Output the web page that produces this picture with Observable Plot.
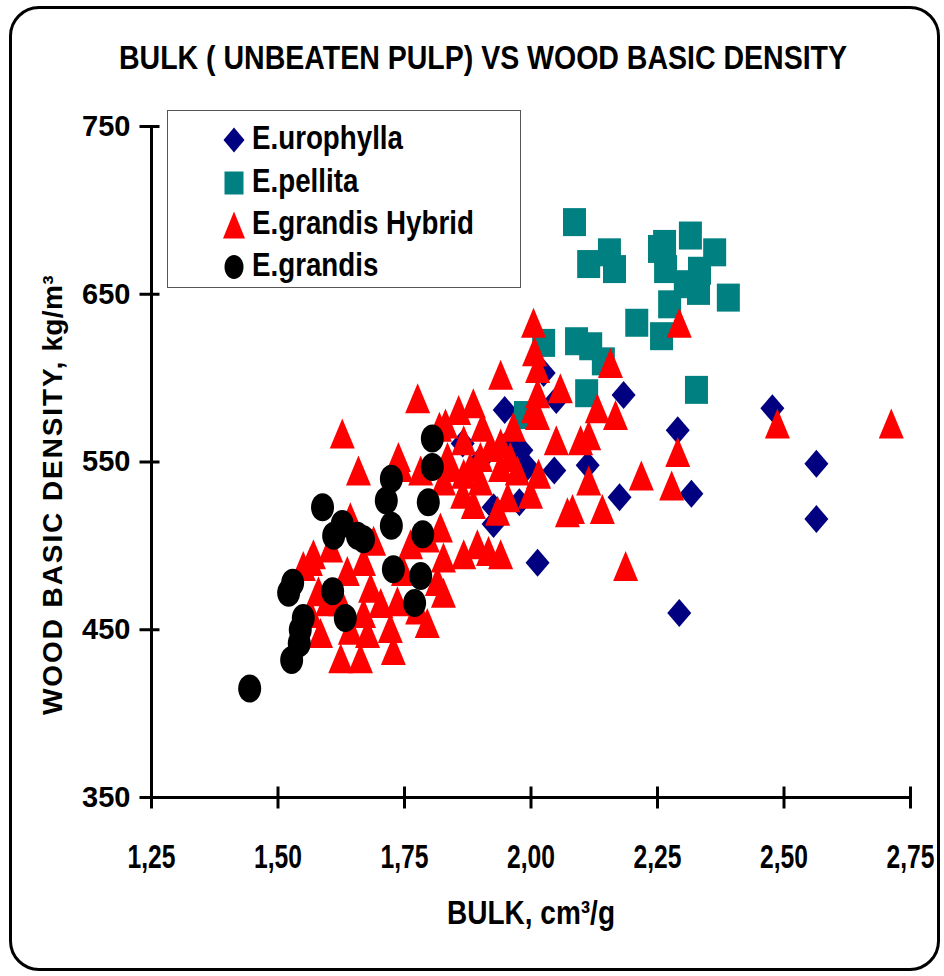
<!DOCTYPE html>
<html>
<head>
<meta charset="utf-8">
<script src="https://cdn.jsdelivr.net/npm/d3@7"></script>
<script src="https://cdn.jsdelivr.net/npm/@observablehq/plot@0.6"></script>
<style>
  body { margin: 0; background: #fff; }
  #wrap { position: relative; width: 944px; height: 976px; overflow: hidden; background: #fff;
          font-family: "Liberation Sans", Arial, sans-serif; font-weight: bold; color: #000; }
  #title { position: relative; height: 100px; }
  #title span { position: absolute; left: 119px; top: 38px; font-size: 34px; line-height: 38px;
                white-space: nowrap; transform-origin: 0 50%; }
  #frame { position: absolute; left: 9px; top: 6px; width: 925px; height: 959px;
           border: 3px solid #000; border-radius: 30px; pointer-events: none; }
  #legend { position: absolute; left: 167px; top: 110px; width: 354px; height: 178px; box-sizing: border-box;
            border: 1.5px solid #555; background: #fff; }
  #legend .row { position: absolute; left: 0; height: 40px; width: 100%; }
  #legend svg { position: absolute; left: 50px; top: 6px; }
  #legend .lab { position: absolute; left: 84px; top: 1px; font-size: 33px; line-height: 38px;
                 white-space: nowrap; transform-origin: 0 50%; }
</style>
</head>
<body>
<div id="wrap">
  <div id="title"><span>BULK ( UNBEATEN PULP) VS WOOD BASIC DENSITY</span></div>
  <div id="chart"></div>
  <div id="legend"></div>
  <div id="frame"></div>
</div>
<script>
// ---- data ----
const categories = ["E.urophylla", "E.pellita", "E.grandis Hybrid", "E.grandis"];
const colors = ["#000080", "#008080", "#FF0000", "#000000"];
const xTicks = [1.25, 1.50, 1.75, 2.00, 2.25, 2.50, 2.75];
const yTicks = [350, 450, 550, 650, 750];
const xTitle = "BULK, cm³/g";
const yTitleMain = "WOOD BASIC DENSITY,";
const yTitleUnit = " kg/m³";

const urophyllaBulk = [2.183, 2.477, 2.290, 2.564, 2.317, 2.564, 2.293, 2.013, 2.175, 2.046, 2.112,
  1.977, 1.948, 2.050, 2.025, 1.981, 1.865, 1.959, 1.926, 1.926, 1.993, 1.900];
const urophyllaDensity = [590, 582, 569, 549, 531, 516, 460, 490, 529, 545, 548,
  526, 581, 587, 603, 557, 561, 563, 523, 513, 547, 551];

const pellitaBulk = [2.086, 2.114, 2.155, 2.165, 2.209, 2.254, 2.264, 2.266, 2.274, 2.258, 2.315, 2.363,
  2.333, 2.331, 2.305, 2.390, 2.327, 2.090, 2.118, 2.143, 2.110, 2.025, 1.989];
const pellitaDensity = [693, 668, 675, 665, 633, 677, 680, 665, 644, 625, 685, 675,
  664, 652, 656, 648, 593, 622, 619, 610, 591, 621, 578];

const hybridBulk = [2.712, 2.487, 2.293, 2.290, 2.278, 2.218, 2.187, 2.157, 2.131, 2.167, 2.141, 2.114,
  2.072, 2.082, 2.050, 2.098, 2.114, 2.058, 2.005, 2.007, 2.013, 2.013, 1.965, 2.015, 1.999, 1.940,
  1.940, 2.005, 2.013, 1.886, 1.857, 1.831, 1.904, 1.940, 1.920, 1.867, 1.959, 1.835, 1.900, 1.880,
  1.841, 1.776, 1.627, 1.738, 1.659, 1.819, 1.742, 1.782, 1.643, 1.570, 1.604, 1.689, 1.762, 1.795,
  1.821, 1.827, 1.815, 1.827, 1.795, 1.736, 1.722, 1.728, 1.669, 1.663, 1.624, 1.584, 1.564, 1.598,
  1.643, 1.677, 1.703, 1.683, 1.637, 1.669, 1.748, 1.776, 1.827, 1.867, 1.900, 1.940, 1.973, 1.954,
  1.934, 1.886, 1.865, 1.867, 1.894, 1.916, 1.564, 1.550, 1.624, 1.580];
const hybridDensity = [573, 573, 633, 556, 536, 542, 488, 609, 582, 578, 522, 539,
  520, 522, 563, 563, 566, 594, 633, 616, 606, 591, 571, 543, 531, 602,
  495, 582, 578, 585, 581, 573, 571, 561, 559, 563, 553, 553, 553, 547,
  547, 588, 567, 553, 545, 571, 547, 545, 517, 495, 499, 503, 501, 505,
  511, 493, 479, 472, 454, 467, 451, 438, 460, 433, 433, 448, 460, 467,
  450, 448, 466, 475, 485, 491, 485, 462, 539, 543, 539, 547, 545, 529,
  521, 525, 531, 495, 501, 497, 491, 488, 467, 473];

const grandisBulk = [1.444, 1.527, 1.542, 1.544, 1.550, 1.521, 1.529, 1.608, 1.633, 1.588, 1.627, 1.610,
  1.657, 1.669, 1.714, 1.724, 1.724, 1.728, 1.805, 1.805, 1.797, 1.786, 1.782, 1.770];
const grandisDensity = [415, 432, 442, 450, 457, 472, 478, 473, 457, 523, 513, 506,
  506, 504, 527, 540, 512, 486, 564, 547, 526, 507, 482, 466];

// ---- marker shapes (fixed pixel size) ----
function diamond(w, h) { return { draw(c) { c.moveTo(0, -h/2); c.lineTo(w/2, 0); c.lineTo(0, h/2); c.lineTo(-w/2, 0); c.closePath(); } }; }
function square(w, h) { return { draw(c) { c.moveTo(-w/2, -h/2); c.lineTo(w/2, -h/2); c.lineTo(w/2, h/2); c.lineTo(-w/2, h/2); c.closePath(); } }; }
function triangle(w, h) { return { draw(c) { c.moveTo(0, -h/2); c.lineTo(w/2, h/2); c.lineTo(-w/2, h/2); c.closePath(); } }; }
function ellipse(w, h) { return { draw(c) { const a = w/2, b = h/2, k = 0.5523;
  c.moveTo(a, 0); c.bezierCurveTo(a, b*k, a*k, b, 0, b); c.bezierCurveTo(-a*k, b, -a, b*k, -a, 0);
  c.bezierCurveTo(-a, -b*k, -a*k, -b, 0, -b); c.bezierCurveTo(a*k, -b, a, -b*k, a, 0); c.closePath(); } }; }
const yTickSym = { draw(c) { c.moveTo(-12, 0); c.lineTo(8, 0); } };
const xTickSym = { draw(c) { c.moveTo(0, -11); c.lineTo(0, 11); } };

const shapes = [diamond(24, 28), square(23, 28), triangle(25, 30), ellipse(23, 28)];
const legendShapes = [diamond(21, 25), square(19, 23), triangle(22, 27), ellipse(19, 24)];

const rows = (xs, ys) => xs.map((x, i) => ({ x, y: ys[i] }));
const series = [rows(urophyllaBulk, urophyllaDensity), rows(pellitaBulk, pellitaDensity),
                rows(hybridBulk, hybridDensity), rows(grandisBulk, grandisDensity)];

const fmt = d => d.toFixed(2).replace(".", ",");
const FONT = "Liberation Sans, Arial, sans-serif";

const plot = Plot.plot({
  width: 944, height: 876,
  marginLeft: 151, marginRight: 34, marginTop: 26, marginBottom: 179,
  x: { domain: [1.25, 2.75], axis: null },
  y: { domain: [350, 750], axis: null },
  style: { fontFamily: FONT, background: "transparent", overflow: "visible" },
  marks: [
    ...series.map((s, i) => Plot.dot(s, { x: "x", y: "y", symbol: shapes[i], fill: colors[i], stroke: "none" })),
    Plot.ruleX([xTicks[0]], { stroke: "#000", strokeWidth: 3 }),
    Plot.ruleY([yTicks[0]], { stroke: "#000", strokeWidth: 3 }),
    Plot.dot(yTicks, { x: () => xTicks[0], y: d => d, symbol: yTickSym, stroke: "#000", strokeWidth: 3, fill: "none" }),
    Plot.dot(xTicks, { x: d => d, y: () => yTicks[0], symbol: xTickSym, stroke: "#000", strokeWidth: 3, fill: "none" }),
    Plot.text(yTicks, { x: () => xTicks[0], y: d => d, text: d => String(d), dx: -21, textAnchor: "end",
      fontSize: 29, fontWeight: "bold", fill: "#000" }),
    Plot.text(xTicks, { x: d => d, y: () => yTicks[0], text: fmt, dy: 60, fontSize: 34, fontWeight: "bold",
      fill: "#000" }),
    Plot.text([xTitle], { frameAnchor: "bottom", textAnchor: "middle", dy: 126, fontSize: 33, fontWeight: "bold",
      fill: "#000" }),
    Plot.text([yTitleMain + yTitleUnit], { frameAnchor: "left", textAnchor: "middle", dx: -98, dy: 33, rotate: -90,
      fontSize: 28, fontWeight: "bold", fill: "#000" })
  ]
});
document.getElementById("chart").appendChild(plot);

// condense some texts horizontally (fit to target widths)
function fitWidth(node, target) {
  const w = node.getComputedTextLength();
  const tr = node.getAttribute("transform") || "";
  node.setAttribute("transform", `${tr} scale(${target / w},1)`);
}
const xLabelSet = new Set(xTicks.map(fmt));
d3.select(plot).selectAll("text").each(function () {
  const s = this.textContent;
  if (xLabelSet.has(s)) fitWidth(this, 48);
  else if (s === xTitle) fitWidth(this, 168);
  else if (s === yTitleMain + yTitleUnit) {
    const L0 = this.getComputedTextLength();
    const extra = 440 - L0;
    const s1 = extra / (yTitleMain.length + yTitleUnit.length * 0.2);
    const t = d3.select(this);
    t.text(null);
    t.append("tspan").attr("letter-spacing", s1).text(yTitleMain);
    t.append("tspan").attr("letter-spacing", s1 * 0.2).text(yTitleUnit);
  }
});

// title condensing
const tspan = document.querySelector("#title span");
const tw = tspan.getBoundingClientRect().width;
tspan.style.transform = `scaleX(${728 / tw})`;

// legend
const legend = d3.select("#legend");
const rowTops = [7, 50, 92, 134];
let labs = [];
categories.forEach((name, i) => {
  const row = legend.append("div").attr("class", "row").style("top", rowTops[i] + "px");
  const s = row.append("svg").attr("width", 32).attr("height", 32);
  const p = d3.path(); legendShapes[i].draw(p);
  s.append("path").attr("d", p.toString()).attr("transform", "translate(16,16)").attr("fill", colors[i]);
  labs.push(row.append("div").attr("class", "lab").text(name).node());
});
const w0 = labs[0].getBoundingClientRect().width;
const k = 151 / w0;
labs.forEach(l => l.style.transform = `scaleX(${k})`);
</script>
</body>
</html>
